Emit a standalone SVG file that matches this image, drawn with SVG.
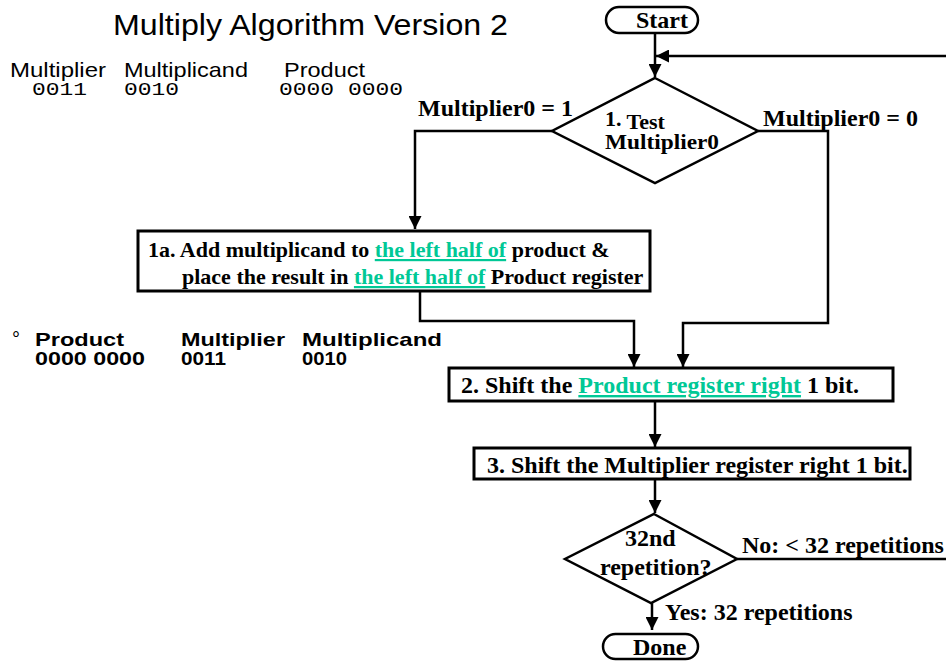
<svg xmlns="http://www.w3.org/2000/svg" width="946" height="663" viewBox="0 0 946 663">
<defs>
<marker id="ah" viewBox="0 0 10 10" refX="10" refY="5" markerWidth="15" markerHeight="13" markerUnits="userSpaceOnUse" orient="auto">
<path d="M0,0 L10,5 L0,10 z" fill="#000"/>
</marker>
<style>
.sr{font-family:"Liberation Serif","Times New Roman",serif;font-weight:bold;fill:#000}
.s22{font-size:22px}
.s24{font-size:24px}
.g{fill:#00c896;text-decoration:underline}
.sa{font-family:"Liberation Sans",Arial,sans-serif;fill:#000}
.mo{font-family:"Liberation Mono","Courier New",monospace;fill:#000;font-size:19px}
.box{fill:#fff;stroke:#000;stroke-width:3}
.dia{fill:#fff;stroke:#000;stroke-width:2.5}
.term{fill:#fff;stroke:#000;stroke-width:2.5}
.ln{fill:none;stroke:#000;stroke-width:2.5}
.arr{marker-end:url(#ah)}
</style>
</defs>
<rect width="946" height="663" fill="#fff"/>

<g id="notes">
<text class="sa" x="113" y="35" font-size="30" textLength="395" lengthAdjust="spacingAndGlyphs">Multiply Algorithm Version 2</text>
<text class="sa" x="10" y="77" font-size="21" textLength="96" lengthAdjust="spacingAndGlyphs">Multiplier</text>
<text class="sa" x="124" y="77" font-size="21" textLength="124" lengthAdjust="spacingAndGlyphs">Multiplicand</text>
<text class="sa" x="284" y="77" font-size="21" textLength="81" lengthAdjust="spacingAndGlyphs">Product</text>
<text class="mo" x="32" y="95" textLength="55" lengthAdjust="spacingAndGlyphs">0011</text>
<text class="mo" x="124" y="95" textLength="55" lengthAdjust="spacingAndGlyphs">0010</text>
<text class="mo" x="279" y="95" textLength="124" lengthAdjust="spacingAndGlyphs">0000 0000</text>

<text class="sa" x="12" y="346" font-size="20">°</text>
<g class="sa" font-size="19" font-weight="bold">
<text x="35" y="346" textLength="89" lengthAdjust="spacingAndGlyphs">Product</text>
<text x="35" y="365" textLength="110" lengthAdjust="spacingAndGlyphs">0000 0000</text>
<text x="181" y="346" textLength="104" lengthAdjust="spacingAndGlyphs">Multiplier</text>
<text x="181" y="365" textLength="45" lengthAdjust="spacingAndGlyphs">0011</text>
<text x="302" y="346" textLength="140" lengthAdjust="spacingAndGlyphs">Multiplicand</text>
<text x="302" y="365" textLength="45" lengthAdjust="spacingAndGlyphs">0010</text>
</g>
</g>

<g id="connectors">
<line class="ln arr" x1="655" y1="33" x2="655" y2="77"/>
<line class="ln arr" x1="946" y1="56" x2="656" y2="56"/>
<polyline class="ln arr" points="552,131 415,131 415,229"/>
<polyline class="ln arr" points="758,131 828,131 828,323 683,323 683,367"/>
<polyline class="ln arr" points="420,291 420,321 634,321 634,367"/>
<line class="ln arr" x1="655" y1="401" x2="655" y2="447"/>
<line class="ln arr" x1="655" y1="479" x2="655" y2="513"/>
<line class="ln" x1="737" y1="559" x2="946" y2="559"/>
<line class="ln arr" x1="652" y1="603" x2="652" y2="630"/>
<text class="sr s24" x="418" y="116">Multiplier0 = 1</text>
<text class="sr s24" x="763" y="126">Multiplier0 = 0</text>
<text class="sr s24" x="742" y="553">No: &lt; 32 repetitions</text>
<text class="sr s24" x="665" y="620">Yes: 32 repetitions</text>
</g>

<g id="start">
<rect class="term" x="606" y="7" width="92" height="26" rx="13"/>
<text class="sr s24" x="636" y="28">Start</text>
</g>

<g id="test">
<polygon class="dia" points="655,78 758,131 655,183 552,131"/>
<text class="sr" font-size="22" x="605" y="126">1. <tspan dy="3">Test</tspan></text>
<text class="sr" font-size="22" x="605" y="149" textLength="114" lengthAdjust="spacingAndGlyphs">Multiplier0</text>
</g>

<g id="step1a">
<rect class="box" x="138" y="231" width="512" height="60"/>
<text class="sr s22" x="148" y="257">1a. Add multiplicand to <tspan class="g">the left half of</tspan> product &amp;</text>
<text class="sr s22" x="182" y="284">place the result in <tspan class="g">the left half of</tspan> Product register</text>
</g>

<g id="step2">
<rect class="box" x="449" y="368" width="444" height="33"/>
<text class="sr s24" x="461" y="393">2. Shift the <tspan class="g">Product register right</tspan> 1 bit.</text>
</g>

<g id="step3">
<rect class="box" x="474" y="448" width="436" height="31"/>
<text class="sr s24" x="487" y="473">3. Shift the Multiplier register right 1 bit.</text>
</g>

<g id="repeat">
<polygon class="dia" points="654,514 737,559 651,603 565,559"/>
<text class="sr s24" x="625" y="546">32nd</text>
<text class="sr s24" x="600" y="575">repetition?</text>
</g>

<g id="done">
<rect class="term" x="603" y="634" width="95" height="25" rx="12.5"/>
<text class="sr s24" x="633" y="655">Done</text>
</g>
</svg>
